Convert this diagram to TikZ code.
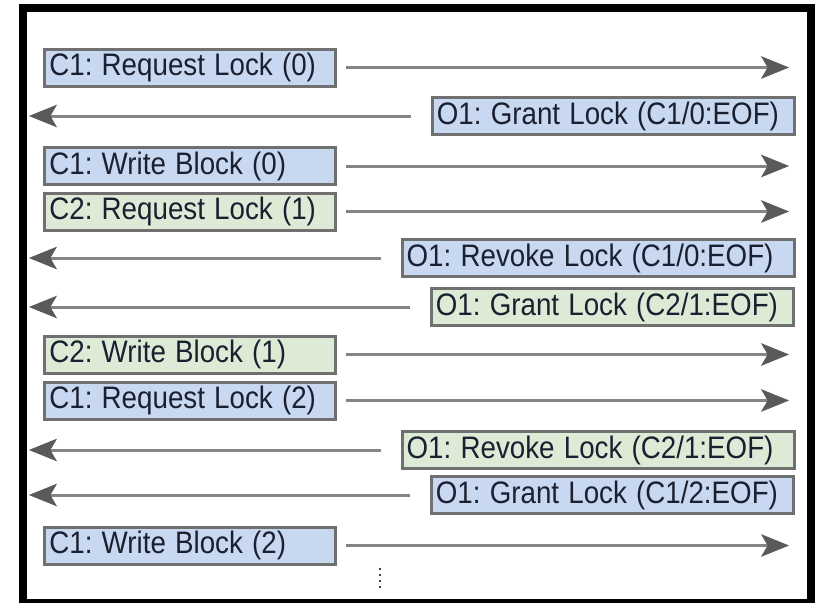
\documentclass[tikz,border=0pt]{standalone}
\usepackage{fontspec}
\usepackage{graphicx}
\setmainfont{Liberation Sans}
\usetikzlibrary{arrows.meta}
\frenchspacing
\definecolor{bluefill}{HTML}{C8D8F0}
\definecolor{greenfill}{HTML}{DCEAD6}
\definecolor{boxline}{HTML}{707070}
\definecolor{arrline}{HTML}{858585}
\definecolor{arrhead}{HTML}{5A5A5A}
\definecolor{txt}{HTML}{1A2030}
\newcommand{\tallt}[1]{\scalebox{1}[1.12]{#1}}
\tikzset{
  msg/.style={draw=boxline, line width=2.25pt, text=txt, font=\fontsize{20.8}{24}\selectfont,
    inner xsep=3.5pt, inner ysep=0pt, minimum height=27.75pt, align=left, anchor=center},
  lbox/.style={msg, text width=211pt},
  gbox/.style={msg, text width=265pt},
  rbox/.style={msg, text width=287pt},
  cblue/.style={fill=bluefill},
  cgreen/.style={fill=greenfill},
  arr/.style={draw=arrline, line width=2.25pt,
    -{Stealth[length=21pt, width=17pt, inset=5pt, color=arrhead, fill=arrhead, line width=0.5pt]}},
  rarr/.style={arr, shorten <=7pt},
  larr/.style={arr, shorten <=15pt}
}
\begin{document}
\begin{tikzpicture}[x=0.75pt,y=-0.75pt]
\useasboundingbox (0,0) rectangle (818,603);
\fill[white] (0,0) rectangle (818,603);
\draw[line width=6pt] (22.5,7.5) rectangle (811,602.5);

\coordinate (tipR) at (789,0);
\coordinate (tipL) at (29,0);

\node[lbox,cblue]  (m1)  at (190,67.5)  {\tallt{C1: Request Lock (0)}};
\node[gbox,cblue]  (m2)  at (613.5,116) {\tallt{O1: Grant Lock (C1/0:EOF)}};
\node[lbox,cblue]  (m3)  at (190,166)   {\tallt{C1: Write Block (0)}};
\node[lbox,cgreen] (m4)  at (190,211.5) {\tallt{C2: Request Lock (1)}};
\node[rbox,cblue]  (m5)  at (598,258)   {\tallt{O1: Revoke Lock (C1/0:EOF)}};
\node[gbox,cgreen] (m6)  at (612.5,307) {\tallt{O1: Grant Lock (C2/1:EOF)}};
\node[lbox,cgreen] (m7)  at (190,354.5) {\tallt{C2: Write Block (1)}};
\node[lbox,cblue]  (m8)  at (190,400.5) {\tallt{C1: Request Lock (2)}};
\node[rbox,cgreen] (m9)  at (598,450)   {\tallt{O1: Revoke Lock (C2/1:EOF)}};
\node[gbox,cblue]  (m10) at (612.5,495) {\tallt{O1: Grant Lock (C1/2:EOF)}};
\node[lbox,cblue]  (m11) at (190,545.5) {\tallt{C1: Write Block (2)}};

\foreach \n in {m1,m3,m4,m7,m8,m11}
  \draw[rarr] (\n.east) -- (\n.east -| tipR);
\foreach \n in {m2,m5,m6,m9,m10}
  \draw[larr] (\n.west) -- (\n.west -| tipL);

\draw[line width=1.7pt, line cap=round, dash pattern=on 0pt off 4.5pt] (380,569) -- (380,593);
\end{tikzpicture}
\end{document}
